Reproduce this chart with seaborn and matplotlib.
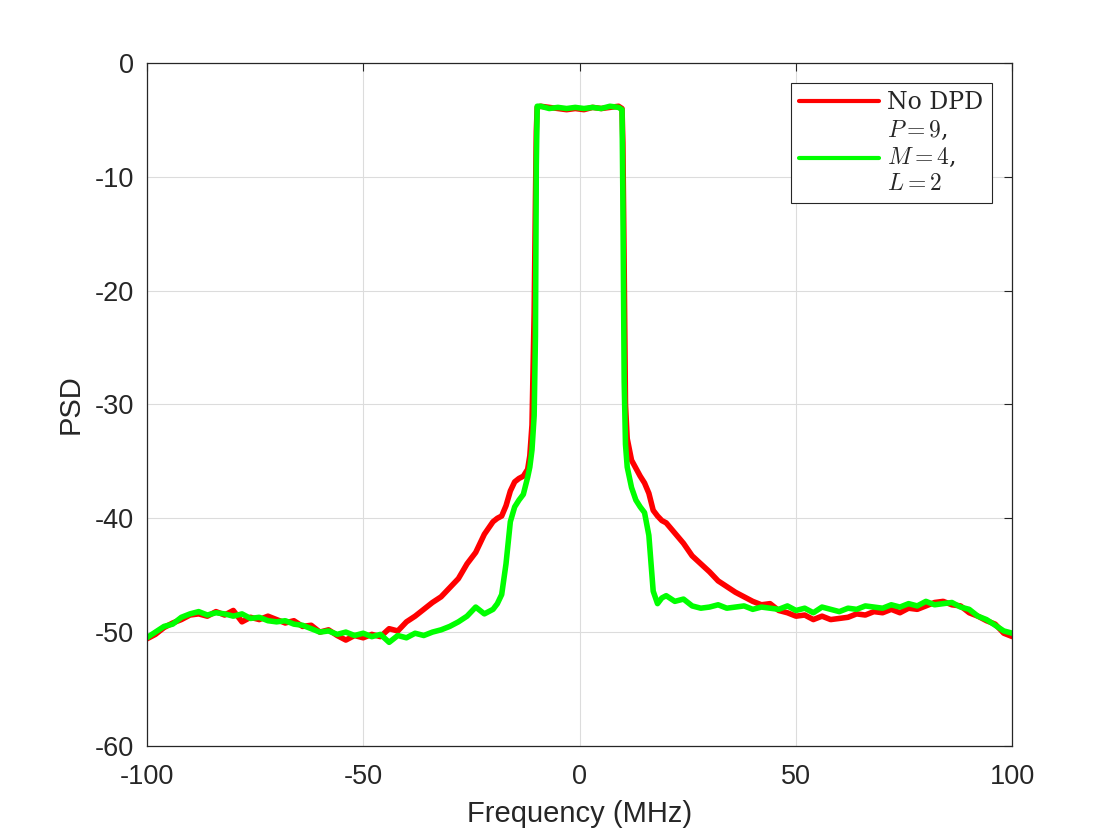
import numpy as np
import pandas as pd
import matplotlib
matplotlib.use('Agg')
import matplotlib.pyplot as plt
import seaborn as sns

# Frequency grid (MHz)
FREQ = [-100, -98, -96, -94, -92, -90, -88, -86, -84, -82,
        -80, -78, -76, -74, -72, -70, -68, -66, -64, -62,
        -60, -58, -56, -54, -52, -50, -48, -46, -44, -42,
        -40, -38, -36, -34, -32, -30, -28, -26, -24, -22,
        -20, -19, -18, -17, -16, -15, -14, -13, -12, -11.5,
        -11, -10.5, -10.2, -10, -9.8,
        -9, -7, -5, -3, -1, 1, 3, 5, 7, 9,
        9.8, 10, 10.3, 10.6, 11, 12, 13, 14, 15, 16,
        17, 18, 19, 20, 22, 24, 26, 28, 30, 32,
        34, 36, 38, 40, 42, 44, 46, 48, 50, 52,
        54, 56, 58, 60, 62, 64, 66, 68, 70, 72,
        74, 76, 78, 80, 82, 84, 86, 88, 90, 92,
        94, 96, 98, 100]

PSD_NO_DPD = [-50.6, -50.2, -49.6, -49.2, -48.9, -48.5, -48.4, -48.6, -48.2, -48.5,
              -48.1, -49.1, -48.7, -48.9, -48.6, -48.9, -49.2, -49.0, -49.5, -49.4,
              -50.0, -49.8, -50.3, -50.7, -50.3, -50.5, -50.2, -50.4, -49.7, -49.9,
              -49.1, -48.6, -48.0, -47.4, -46.9, -46.1, -45.3, -44.0, -43.0, -41.4,
              -40.3, -40.0, -39.8, -38.9, -37.6, -36.8, -36.5, -36.3, -35.7, -34.5,
              -31.8, -22.0, -12.0, -6.0, -3.9,
              -3.8, -3.9, -4.0, -4.1, -4.0, -4.1, -3.9, -4.0, -3.9, -3.8,
              -4.0, -7.0, -18.0, -30.0, -33.0, -34.9, -35.6, -36.3, -36.9, -37.8,
              -39.3, -39.8, -40.2, -40.4, -41.3, -42.2, -43.3, -44.0, -44.7, -45.5,
              -46.0, -46.5, -46.9, -47.3, -47.6, -47.5, -48.1, -48.3, -48.6, -48.5,
              -48.9, -48.6, -48.9, -48.8, -48.7, -48.4, -48.5, -48.2, -48.3, -48.0,
              -48.3, -47.9, -48.0, -47.7, -47.4, -47.3, -47.6, -47.7, -48.3, -48.6,
              -49.0, -49.3, -50.1, -50.4]

PSD_DPD = [-50.5, -50.0, -49.5, -49.3, -48.7, -48.4, -48.2, -48.5, -48.3, -48.4,
           -48.6, -48.4, -48.8, -48.7, -49.0, -49.1, -49.0, -49.3, -49.4, -49.7,
           -50.0, -49.9, -50.2, -50.0, -50.3, -50.1, -50.4, -50.2, -50.9, -50.3,
           -50.5, -50.1, -50.3, -50.0, -49.8, -49.5, -49.1, -48.6, -47.8, -48.4,
           -48.0, -47.5, -46.7, -44.0, -40.3, -39.0, -38.4, -37.9, -36.4, -35.5,
           -34.0, -31.0, -24.0, -9.0, -3.8,
           -3.8, -4.0, -3.9, -4.0, -3.9, -4.0, -3.9, -4.0, -3.8, -3.9,
           -4.1, -12.0, -28.0, -33.5, -35.5, -37.3, -38.4, -39.0, -39.5, -41.5,
           -46.4, -47.5, -47.0, -46.8, -47.3, -47.1, -47.7, -47.9, -47.8, -47.6,
           -47.9, -47.8, -47.7, -48.0, -47.8, -47.9, -48.0, -47.7, -48.1, -47.9,
           -48.3, -47.8, -48.0, -48.2, -47.9, -48.0, -47.7, -47.8, -47.9, -47.6,
           -47.8, -47.5, -47.7, -47.3, -47.6, -47.5, -47.4, -47.8, -48.0, -48.6,
           -48.9, -49.4, -49.9, -50.1]

X_TICKS = [-100, -50, 0, 50, 100]
Y_TICKS = [-60, -50, -40, -30, -20, -10, 0]

sns.set_theme(style="white")
plt.rcParams['font.family'] = ['Liberation Sans', 'DejaVu Sans']
plt.rcParams['mathtext.fontset'] = 'cm'

fig = plt.figure(figsize=(11.2, 8.4), dpi=100)
ax = fig.add_axes([0.131, 0.112, 0.773, 0.813])

sns.lineplot(x=FREQ, y=PSD_NO_DPD, sort=False, estimator=None, color='#FF0000',
             linewidth=4, label='No DPD', ax=ax)
sns.lineplot(x=FREQ, y=PSD_DPD, sort=False, estimator=None, color='#00FF00',
             linewidth=4, label='$P=9$,\n$M=4$,\n$L=2$', ax=ax)

ax.set_xlim(-100, 100)
ax.set_ylim(-60, 0)
ax.set_xticks(X_TICKS)
ax.set_yticks(Y_TICKS)
ax.set_xticklabels([str(t) for t in X_TICKS])
ax.set_yticklabels([str(t) for t in Y_TICKS])
ax.tick_params(direction='in', length=6, width=0.8, colors='#262626',
               labelsize=19.5, top=True, right=True)
ax.tick_params(axis='x', pad=13)
ax.tick_params(axis='y', pad=9)
ax.grid(True, color='#dcdcdc', linewidth=0.8)
for s in ax.spines.values():
    s.set_color('#262626')
    s.set_linewidth(0.9)

ax.set_xlabel('Frequency (MHz)', fontsize=21, color='#262626', labelpad=7)
ax.set_ylabel('PSD', fontsize=21, color='#262626', labelpad=7)

leg = ax.legend(loc='upper right', bbox_to_anchor=(0.976, 0.971), borderaxespad=0,
                prop={'family': 'serif', 'size': 17}, handlelength=3.4,
                handletextpad=0.35, borderpad=0.35, labelspacing=0.2,
                fancybox=False, framealpha=1)
leg.get_frame().set_edgecolor('#262626')
leg.get_frame().set_linewidth(0.8)
for line in leg.get_lines():
    line.set_linewidth(3)

fig.savefig('out.png', dpi=100)
